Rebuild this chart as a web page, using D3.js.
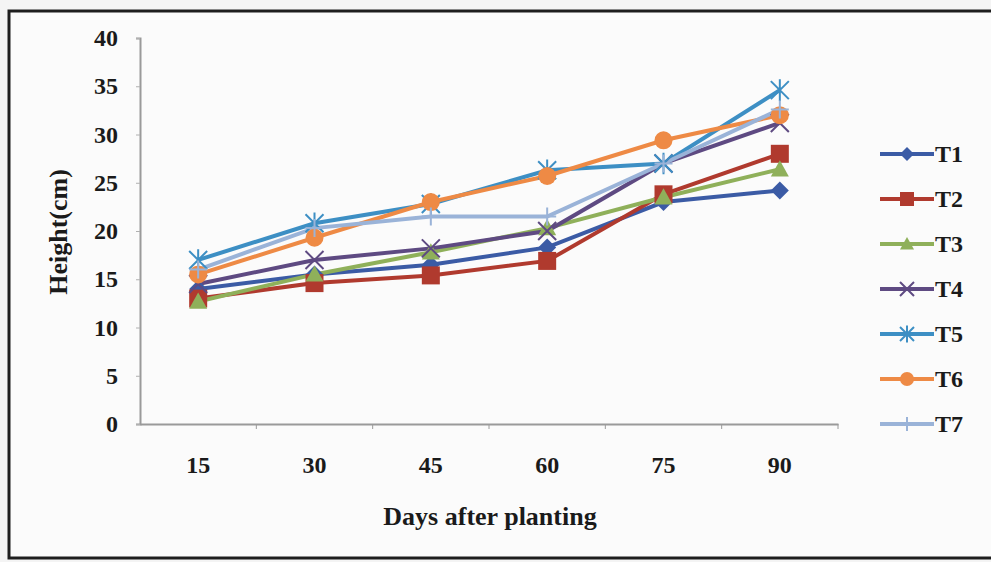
<!DOCTYPE html>
<html>
<head>
<meta charset="utf-8">
<script src="https://cdn.jsdelivr.net/npm/d3@7"></script>
<style>
  body { margin: 0; background: #f4f4f4; }
  text { font-family: "Liberation Serif", "Times New Roman", serif; font-weight: bold; fill: #1a1a1a; }
</style>
</head>
<body>
<div id="chart"></div>
<script>
const days = ["15", "30", "45", "60", "75", "90"];
const yTicks = [0, 5, 10, 15, 20, 25, 30, 35, 40];

const T1 = [14.0, 15.5, 16.5, 18.3, 23.0, 24.2];
const T2 = [13.0, 14.6, 15.4, 16.9, 23.8, 28.0];
const T3 = [12.7, 15.5, 17.8, 20.3, 23.5, 26.4];
const T4 = [14.5, 17.0, 18.2, 20.0, 27.0, 31.2];
const T5 = [17.0, 20.8, 22.8, 26.3, 27.0, 34.6];
const T6 = [15.5, 19.3, 23.0, 25.7, 29.4, 32.0];
const T7 = [16.0, 20.3, 21.5, 21.5, 27.0, 32.6];

const seriesNames = ["T1", "T2", "T3", "T4", "T5", "T6", "T7"];
const seriesValues = [T1, T2, T3, T4, T5, T6, T7];
const colors = ["#3b5ba5", "#b03a2e", "#8fb05a", "#5e4a82", "#3d8fc4", "#ee8a45", "#9ab3d8"];
const shapes = ["diamond", "square", "triangle", "x", "star", "circle", "plus"];

let width = 991, height = 562;
let margin = {top: 38, right: 153, bottom: 138, left: 140};
let plotW = 838 - margin.left;
let plotH = 424 - margin.top;

const svg = d3.select("#chart")
  .append("svg")
    .attr("width", width)
    .attr("height", height);

// outer frame
svg.append("rect")
  .attr("x", 9).attr("y", 11)
  .attr("width", 990).attr("height", 547)
  .attr("fill", "#fbfbfb")
  .attr("stroke", "#1e1e1e")
  .attr("stroke-width", 3);

const g = svg.append("g")
  .attr("transform", "translate(" + margin.left + "," + margin.top + ")");

let x = d3.scaleBand()
  .domain(days)
  .range([0, plotW]);
let y = d3.scaleLinear()
  .domain([0, 40])
  .range([plotH, 0]);

// y axis
const yAxis = g.append("g")
  .call(d3.axisLeft(y).tickValues(yTicks).tickSize(4).tickPadding(18));
yAxis.select(".domain").attr("stroke", "#9a9a9a").attr("stroke-width", 2);
yAxis.selectAll(".tick line").attr("stroke", "#b0b0b0");
yAxis.selectAll("text").style("font-size", "24px").attr("fill", "#1a1a1a");

// x axis, ticks at band edges
const xAxis = g.append("g")
  .attr("transform", "translate(0," + plotH + ")")
  .call(d3.axisBottom(x).tickSize(0).tickPadding(32));
xAxis.select(".domain").attr("stroke", "#9a9a9a").attr("stroke-width", 2);
xAxis.selectAll("text").style("font-size", "24px").attr("fill", "#1a1a1a");
g.append("g")
  .selectAll("line")
  .data(days)
  .enter()
  .append("line")
    .attr("x1", d => x(d) + x.bandwidth())
    .attr("x2", d => x(d) + x.bandwidth())
    .attr("y1", plotH)
    .attr("y2", plotH + 5)
    .attr("stroke", "#9a9a9a");

// axis titles
svg.append("text")
  .attr("x", 490).attr("y", 525)
  .attr("text-anchor", "middle")
  .style("font-size", "26px")
  .text("Days after planting");
svg.append("text")
  .attr("transform", "translate(67,232) rotate(-90)")
  .attr("text-anchor", "middle")
  .style("font-size", "26px")
  .text("Height(cm)");

function drawMarker(sel, shape, color, size) {
  const s = size;
  if (shape === "diamond") {
    sel.append("path").attr("d", `M0,${-s}L${s},0L0,${s}L${-s},0Z`).attr("fill", color);
  } else if (shape === "square") {
    sel.append("rect").attr("x", -s).attr("y", -s).attr("width", 2 * s).attr("height", 2 * s).attr("fill", color);
  } else if (shape === "triangle") {
    sel.append("path").attr("d", `M0,${-s}L${s},${s * 0.8}L${-s},${s * 0.8}Z`).attr("fill", color);
  } else if (shape === "x") {
    sel.append("path").attr("d", `M${-s},${-s}L${s},${s}M${-s},${s}L${s},${-s}`)
      .attr("stroke", color).attr("stroke-width", 2);
  } else if (shape === "star") {
    sel.append("path").attr("d", `M${-s},${-s}L${s},${s}M${-s},${s}L${s},${-s}M0,${-s * 1.2}L0,${s * 1.2}`)
      .attr("stroke", color).attr("stroke-width", 2);
  } else if (shape === "circle") {
    sel.append("circle").attr("r", s).attr("fill", color);
  } else if (shape === "plus") {
    sel.append("path").attr("d", `M0,${-s}L0,${s}M${-s},0L${s},0`)
      .attr("stroke", color).attr("stroke-width", 2);
  }
}

let line = d3.line()
  .x((d, i) => x(days[i]) + x.bandwidth() / 2)
  .y(d => y(d));

seriesValues.forEach(function (vals, k) {
  g.append("path")
    .datum(vals)
    .attr("fill", "none")
    .attr("stroke", colors[k])
    .attr("stroke-width", 4)
    .attr("d", line);
});

seriesValues.forEach(function (vals, k) {
  g.append("g")
    .selectAll("g")
    .data(vals)
    .enter()
    .append("g")
      .attr("transform", (d, i) => "translate(" + (x(days[i]) + x.bandwidth() / 2) + "," + y(d) + ")")
      .each(function () { drawMarker(d3.select(this), shapes[k], colors[k], 9); });
});

// legend
const legend = svg.append("g")
  .selectAll("g")
  .data(seriesNames)
  .enter()
  .append("g")
    .attr("transform", (d, i) => "translate(880," + (154 + i * 45) + ")");
legend.append("line")
  .attr("x1", 0).attr("x2", 54)
  .attr("stroke", (d, i) => colors[i])
  .attr("stroke-width", 4);
legend.each(function (d, i) {
  const m = d3.select(this).append("g").attr("transform", "translate(27,0)");
  drawMarker(m, shapes[i], colors[i], 7);
});
legend.append("text")
  .attr("x", 55).attr("y", 8)
  .style("font-size", "24px")
  .text(d => d);
</script>
</body>
</html>
